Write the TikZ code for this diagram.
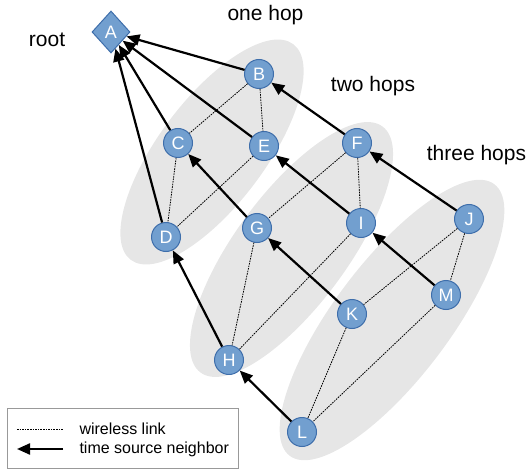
\documentclass[tikz,border=0pt]{standalone}
\usepackage{fontspec}
\setmainfont{Liberation Sans}
\usetikzlibrary{shapes.geometric,arrows.meta}
\definecolor{nodefill}{HTML}{729FCF}
\definecolor{nodedraw}{HTML}{3E6EAB}
\definecolor{hopgray}{HTML}{E6E6E6}
\definecolor{legdraw}{HTML}{999999}
\begin{document}
\begin{tikzpicture}[x=1pt,y=-1pt,
  hopnode/.style={circle,fill=nodefill,draw=nodedraw,line width=1pt,minimum size=29pt,inner sep=0pt,text=white,font=\fontsize{18}{18}\selectfont},
  rootnode/.style={diamond,fill=nodefill,draw=nodedraw,line width=1pt,minimum width=38pt,minimum height=42pt,inner sep=0pt,text=white,font=\fontsize{18}{18}\selectfont},
  hopzone/.style={fill=hopgray},
  tsn/.style={line width=2.2pt,-{Triangle[length=13pt,width=11pt]}},
  wlink/.style={dash pattern=on 1.6pt off 1pt,line width=0.8pt},
  lbl/.style={font=\fontsize{21}{21}\selectfont,anchor=base},
  legtext/.style={font=\fontsize{16}{16}\selectfont,anchor=west}]
\useasboundingbox (0,0) rectangle (529,470);
% hop zones
\fill[hopzone, rotate around={53:(212,152)}] (212,152) ellipse (135 and 53);
\fill[hopzone, rotate around={53.5:(291.5,249.5)}] (291.5,249.5) ellipse (153 and 56);
\fill[hopzone, rotate around={53:(392,320)}] (392,320) ellipse (170 and 58);
% labels
\node[lbl] (lroot) at (47,47) {root};
\node[lbl] (l1) at (265.5,21) {one hop};
\node[lbl] (l2) at (373,92) {two hops};
\node[lbl] (l3) at (476.5,161) {three hops};
% nodes
\node[rootnode] (A) at (111,32) {A};
\node[hopnode] (B) at (259,74) {B};
\node[hopnode] (C) at (178,143) {C};
\node[hopnode] (E) at (264,146) {E};
\node[hopnode] (D) at (166,237) {D};
\node[hopnode] (F) at (357,143) {F};
\node[hopnode] (G) at (257,228) {G};
\node[hopnode] (I) at (361,223) {I};
\node[hopnode] (J) at (469,219) {J};
\node[hopnode] (K) at (352,314) {K};
\node[hopnode] (H) at (229,360) {H};
\node[hopnode] (M) at (446,295) {M};
\node[hopnode] (L) at (302,432) {L};
% wireless links
\draw[wlink] (B) -- (C);
\draw[wlink] (B) -- (E);
\draw[wlink] (C) -- (D);
\draw[wlink] (E) -- (D);
\draw[wlink] (F) -- (G);
\draw[wlink] (F) -- (I);
\draw[wlink] (G) -- (H);
\draw[wlink] (I) -- (H);
\draw[wlink] (J) -- (K);
\draw[wlink] (J) -- (M);
\draw[wlink] (K) -- (L);
\draw[wlink] (M) -- (L);
% time source neighbors
\draw[tsn] (B) -- (A);
\draw[tsn] (E) -- (A);
\draw[tsn] (C) -- (A);
\draw[tsn] (D) -- (A);
\draw[tsn] (F) -- (B);
\draw[tsn] (G) -- (C);
\draw[tsn] (I) -- (E);
\draw[tsn] (H) -- (D);
\draw[tsn] (K) -- (G);
\draw[tsn] (J) -- (F);
\draw[tsn] (M) -- (I);
\draw[tsn] (L) -- (H);
% legend
\draw[legdraw,line width=1pt] (7,408) rectangle (238,468);
\coordinate (w1) at (17,429);
\coordinate (w2) at (63,429);
\coordinate (t1) at (63,449);
\coordinate (t2) at (17,449);
\draw[wlink] (w1) -- (w2);
\draw[tsn] (t1) -- (t2);
\node[legtext] (lw) at (76,429) {wireless link};
\node[legtext] (lt) at (76,449) {time source neighbor};
\end{tikzpicture}
\end{document}
